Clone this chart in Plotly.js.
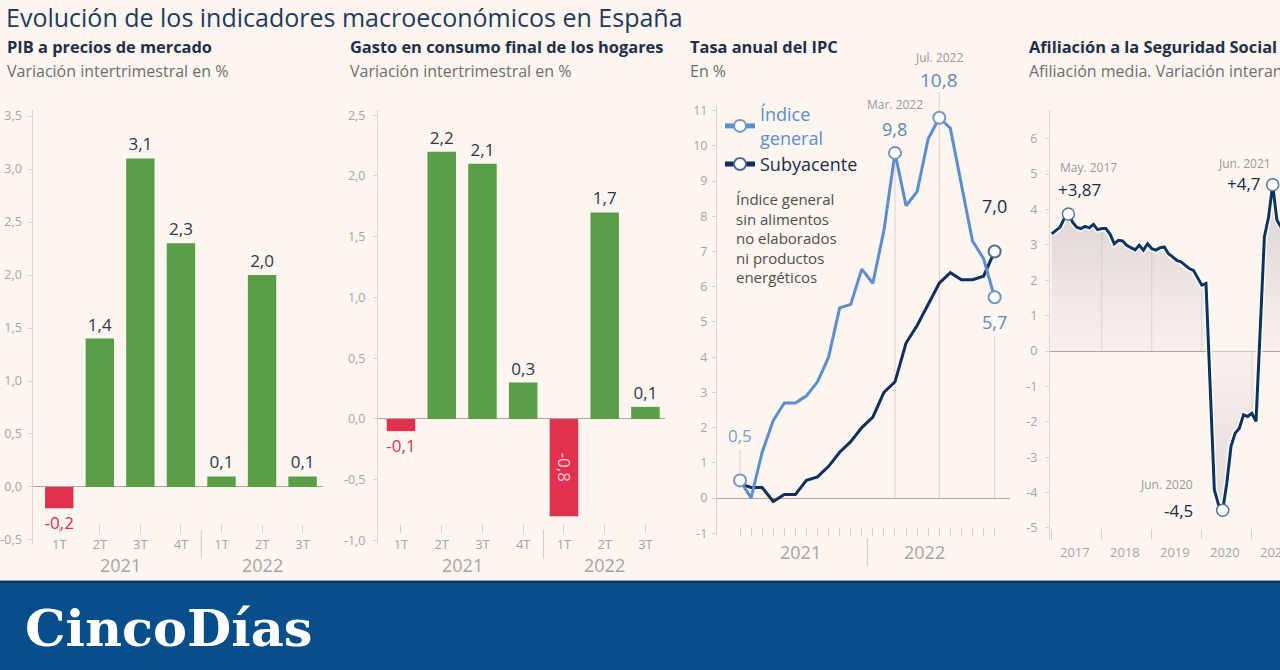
<!DOCTYPE html>
<html><head><meta charset="utf-8">
<script src="https://cdn.plot.ly/plotly-3.0.1.min.js"></script>
<style>html,body{margin:0;padding:0;background:#fcf5f0;} #chart{width:1280px;height:670px;}</style>
</head><body><div id="chart"></div>
<script>
// ---------------- DATA ----------------
const quarters = ['1T','2T','3T','4T','1T','2T','3T'];
const quarterYears = ['2021','2021','2021','2021','2022','2022','2022'];
const pibValues = [-0.2, 1.4, 3.1, 2.3, 0.1, 2.0, 0.1];
const gastoValues = [-0.1, 2.2, 2.1, 0.3, -0.8, 1.7, 0.1];

const ipcMonths = ['ene 2021','feb 2021','mar 2021','abr 2021','may 2021','jun 2021','jul 2021','ago 2021','sep 2021','oct 2021','nov 2021','dic 2021',
                   'ene 2022','feb 2022','mar 2022','abr 2022','may 2022','jun 2022','jul 2022','ago 2022','sep 2022','oct 2022','nov 2022','dic 2022'];
const ipcYears = ['2021','2022'];
const ipcGeneral = [0.5, 0.0, 1.3, 2.2, 2.7, 2.7, 2.9, 3.3, 4.0, 5.4, 5.5, 6.5, 6.1, 7.6, 9.8, 8.3, 8.7, 10.2, 10.8, 10.5, 8.9, 7.3, 6.8, 5.7];
const ipcCore    = [0.4, 0.3, 0.3, -0.1, 0.1, 0.1, 0.5, 0.6, 0.9, 1.3, 1.6, 2.0, 2.3, 3.0, 3.3, 4.4, 4.9, 5.5, 6.1, 6.4, 6.2, 6.2, 6.3, 7.0];

const afilYears = ['2017','2018','2019','2020','2021'];
const afilValues = [3.31, 3.40, 3.50, 3.74, 3.87, 3.64, 3.50, 3.46, 3.52, 3.48, 3.58, 3.43,
                    3.46, 3.46, 3.30, 3.03, 3.13, 3.11, 2.99, 2.92, 2.86, 2.99, 2.85, 3.03,
                    2.89, 2.85, 2.92, 2.94, 2.75, 2.66, 2.56, 2.52, 2.42, 2.33, 2.28, 2.09,
                    1.86, 1.91, -1.2, -3.92, -4.34, -4.5, -3.73, -2.69, -2.32, -2.18, -1.80, -1.85,
                    -1.76, -1.99, 0.6, 3.22, 3.78, 4.7, 3.7, 3.5];

// ---------------- HELPERS ----------------
const W = 1280, H = 670;
const fx = p => p / W;
const fy = p => 1 - p / H;
const fmt = v => v.toFixed(1).replace('.', ',');
const FONT = 'Open Sans, Lato, sans-serif';
const GREY = '#a7a3a0';
const AXIS = '#d9d3cf';
const GREEN = '#5a9e48';
const RED = '#e2304f';
const LIGHTBLUE = '#5b8ecb';
const NAVY = '#0f2f5c';

const idxQ = quarters.map((_, i) => i);
const idxIpc = ipcMonths.map((_, i) => i);
const idxAfil = afilValues.map((_, i) => i);
const afilMonthLabels = afilValues.map((_, i) => (i % 12 + 1) + '/' + afilYears[Math.floor(i / 12)]);

function barTrace(vals, xa, ya, skip) {
  return {
    type: 'bar', x: idxQ, y: vals, xaxis: xa, yaxis: ya, width: 0.7,
    marker: {color: vals.map(v => v < 0 ? RED : GREEN)},
    text: vals.map((v, i) => skip.includes(i) ? '' : fmt(v)),
    textposition: 'outside', textangle: 0, constraintext: 'none', cliponaxis: false,
    textfont: {family: FONT, size: 17, weight: 500, color: vals.map(v => v < 0 ? RED : '#2d3846')},
    hoverinfo: 'skip', showlegend: false
  };
}

function yAx(domPx, range, anchor, vals, txt, standoff) {
  return {
    domain: [fy(domPx[1]), fy(domPx[0])], range: range, anchor: anchor,
    showline: true, linecolor: AXIS, linewidth: 1, ticks: 'outside', ticklen: 4, tickcolor: AXIS,
    tickvals: vals, ticktext: txt, tickfont: {family: FONT, size: 12.5, color: GREY},
    ticklabelstandoff: standoff,
    showgrid: false, zeroline: true, zerolinecolor: '#aca5a1', zerolinewidth: 1, fixedrange: true
  };
}
function xAx(domPx, range, posPx, vals, txt, len) {
  return {
    domain: [fx(domPx[0]), fx(domPx[1])], range: range, anchor: 'free', position: fy(posPx),
    showline: false, showgrid: false, zeroline: false,
    ticks: 'outside', ticklen: len, tickcolor: '#d6d0cc', tickwidth: 1,
    tickvals: vals, ticktext: txt, showticklabels: !!txt,
    tickfont: {family: FONT, size: 13, color: GREY}, fixedrange: true
  };
}

// ---------------- TRACES ----------------
const traces = [];
traces.push(barTrace(pibValues, 'x', 'y', []));
traces.push(barTrace(gastoValues, 'x2', 'y2', [4]));

// IPC
const ipcHlGeneral = [0, 14, 18, 23];
const ipcHlCore = [23];
traces.push({type: 'scatter', mode: 'lines', x: idxIpc, y: ipcCore, text: ipcMonths, xaxis: 'x3', yaxis: 'y3',
  line: {color: NAVY, width: 3}, showlegend: false, hoverinfo: 'text+y'});
traces.push({type: 'scatter', mode: 'lines', x: idxIpc, y: ipcGeneral, text: ipcMonths, xaxis: 'x3', yaxis: 'y3',
  line: {color: LIGHTBLUE, width: 3}, showlegend: false, hoverinfo: 'text+y'});
traces.push({type: 'scatter', mode: 'markers', x: ipcHlGeneral, y: ipcHlGeneral.map(i => ipcGeneral[i]), xaxis: 'x3', yaxis: 'y3',
  marker: {size: 12, color: '#ffffff', line: {color: '#7296c2', width: 2}}, showlegend: false, cliponaxis: false, hoverinfo: 'skip'});
traces.push({type: 'scatter', mode: 'markers', x: ipcHlCore, y: ipcHlCore.map(i => ipcCore[i]), xaxis: 'x3', yaxis: 'y3',
  marker: {size: 12, color: '#ffffff', line: {color: '#4e6d92', width: 2}}, showlegend: false, cliponaxis: false, hoverinfo: 'skip'});
// legend entries
traces.push({type: 'scatter', mode: 'lines+markers', x: [null], y: [null], xaxis: 'x3', yaxis: 'y3',
  name: 'Índice<br>general', line: {color: LIGHTBLUE, width: 3},
  marker: {size: 11, color: '#ffffff', line: {color: '#7296c2', width: 2}}});
traces.push({type: 'scatter', mode: 'lines+markers', x: [null], y: [null], xaxis: 'x3', yaxis: 'y3',
  name: '<span style="color:#1b2d4a">Subyacente</span>', line: {color: NAVY, width: 3},
  marker: {size: 11, color: '#ffffff', line: {color: '#4e6d92', width: 2}}});

// Afiliación
traces.push({type: 'scatter', mode: 'lines', x: idxAfil, y: afilValues, xaxis: 'x4', yaxis: 'y4',
  fill: 'tozeroy',
  fillgradient: {type: 'vertical', start: 5, stop: -5,
    colorscale: [[0, 'rgba(200,190,195,0.75)'], [0.5, 'rgba(242,236,233,0.5)'], [1, 'rgba(210,200,204,0.7)']]},
  line: {color: 'rgba(255,255,255,0.85)', width: 6}, showlegend: false, hoverinfo: 'skip'});
traces.push({type: 'scatter', mode: 'lines', x: idxAfil, y: afilValues, text: afilMonthLabels, xaxis: 'x4', yaxis: 'y4',
  line: {color: '#0d3461', width: 3}, showlegend: false, hoverinfo: 'text+y'});
const afilHl = [4, 41, 53];
traces.push({type: 'scatter', mode: 'markers', x: afilHl, y: afilHl.map(i => afilValues[i]), xaxis: 'x4', yaxis: 'y4',
  marker: {size: 12, color: '#ffffff', line: {color: '#5a7393', width: 1.5}}, showlegend: false, cliponaxis: false, hoverinfo: 'skip'});

// ---------------- ANNOTATIONS ----------------
const ann = [];
function txt(xp, yp, text, size, color, anchor, extra) {
  ann.push(Object.assign({xref: 'paper', yref: 'paper', x: fx(xp), y: fy(yp), text: text, showarrow: false,
    xanchor: anchor || 'left', yanchor: 'middle', font: {family: FONT, size: size, color: color}}, extra || {}));
}
function dtxt(xref, xv, yp, text, size, color, anchor, extra) {
  ann.push(Object.assign({xref: xref, yref: 'paper', x: xv, y: fy(yp), text: text, showarrow: false,
    xanchor: anchor || 'center', yanchor: 'middle', font: {family: FONT, size: size, color: color}}, extra || {}));
}
txt(4, 17, 'Evolución de los indicadores macroeconómicos en España', 25, '#1f3a5c', 'left', {font: {family: FONT, size: 25, color: '#1f3a5c', weight: 500}});
const titles = [[5, 'PIB a precios de mercado', 'Variación intertrimestral en %'],
                [348, 'Gasto en consumo final de los hogares', 'Variación intertrimestral en %'],
                [688, 'Tasa anual del IPC', 'En %'],
                [1027, 'Afiliación a la Seguridad Social', 'Afiliación media. Variación interanual en %']];
titles.forEach(t => {
  txt(t[0], 46, t[1], 16.4, '#1e2f48', 'left', {font: {family: FONT, size: 16.4, color: '#1e2f48', weight: 700}});
  txt(t[0], 71, t[2], 16, '#6f6d6b', 'left');
});

// year labels under bar panels
['x', 'x2'].forEach(xr => {
  [...new Set(quarterYears)].forEach(y => {
    const ids = idxQ.filter(i => quarterYears[i] === y);
    const mid = ids.reduce((a, b) => a + b, 0) / ids.length;
    dtxt(xr, mid, 565, y, 18, GREY);
  });
});
// rotated label inside -0,8 bar
ann.push({xref: 'x2', yref: 'y2', x: 4, y: gastoValues[4] / 2, text: fmt(gastoValues[4]), textangle: 90, showarrow: false,
  font: {family: FONT, size: 17, color: '#f8c6cf'}});

// IPC labels
dtxt('x3', 5.5, 552, ipcYears[0], 18, GREY);
dtxt('x3', 16.7, 552, ipcYears[1], 18, GREY);
dtxt('x3', 0, 435, fmt(ipcGeneral[0]), 17, '#7f9cbf');
dtxt('x3', 14, 104, 'Mar. 2022', 12, '#9a9795');
dtxt('x3', 14, 129, fmt(ipcGeneral[14]), 18, '#5f87b6');
dtxt('x3', 18, 57, 'Jul. 2022', 12, '#9a9795');
dtxt('x3', 18, 80, fmt(ipcGeneral[18]), 19, '#5f87b6');
dtxt('x3', 23, 206, fmt(ipcCore[23]), 18, '#1c2b40');
dtxt('x3', 23, 322, fmt(ipcGeneral[23]), 18, '#5f87b6');
ann.push({xref: 'paper', yref: 'paper', x: fx(734), y: fy(187), xanchor: 'left', yanchor: 'top', align: 'left', showarrow: false,
  text: 'Índice general<br>sin alimentos<br>no elaborados<br>ni productos<br>energéticos',
  font: {family: FONT, size: 15, color: '#4f4d4b'}});

// Afiliación labels
afilYears.forEach((y, k) => dtxt('x4', 12 * k + 5.5, 552, y, 13, GREY));
dtxt('x4', 4, 168, 'May. 2017', 12, '#9a9795', 'left', {xshift: -10});
dtxt('x4', 4, 189, '+' + afilValues[4].toFixed(2).replace('.', ','), 17, '#1c2b40', 'left', {xshift: -12});
dtxt('x4', 53, 163, 'Jun. 2021', 12, '#9a9795', 'right', {xshift: 0});
dtxt('x4', 53, 183, '+' + fmt(afilValues[53]), 17, '#1c2b40', 'right', {xshift: -10});
dtxt('x4', 41, 484, 'Jun. 2020', 12, '#9a9795', 'right', {xshift: -28});
dtxt('x4', 41, 510, fmt(afilValues[41]), 17, '#1c2b40', 'right', {xshift: -28});

// Logo text
txt(23, 628, 'CincoDías', 51, '#ffffff', 'left', {font: {family: 'DejaVu Serif, Liberation Serif, serif', size: 51, color: '#ffffff', weight: 700}});

// ---------------- SHAPES ----------------
const shapes = [];
const vline = (xref, x, yref, y0, y1, color) => shapes.push({type: 'line', xref: xref, yref: yref, x0: x, x1: x, y0: y0, y1: y1,
  line: {color: color || '#d8d2ce', width: 1}, layer: 'below'});
vline('x', 3.5, 'paper', fy(530), fy(559), '#cfc9c5');
vline('x2', 3.5, 'paper', fy(530), fy(559), '#cfc9c5');
vline('x3', 11.5, 'paper', fy(538), fy(566), '#cfc9c5');
vline('x3', 14, 'y3', 0, ipcGeneral[14]);
vline('x3', 18, 'paper', fy(498), fy(92));
vline('x3', 23, 'paper', fy(498), fy(336));
vline('x3', 0, 'paper', fy(478), fy(450));
[12, 24, 36, 48].forEach(i => vline('x4', i, 'y4', 0, afilValues[i], '#c9c2c0'));
// bottom band
shapes.push({type: 'rect', xref: 'paper', yref: 'paper', x0: 0, x1: 1, y0: 0, y1: fy(580), fillcolor: '#074e8b', line: {width: 0}, layer: 'below'});
shapes.push({type: 'rect', xref: 'paper', yref: 'paper', x0: 0, x1: 1, y0: fy(583), y1: fy(580.8), fillcolor: '#0b3566', line: {width: 0}, layer: 'below'});
shapes.push({type: 'rect', xref: 'paper', yref: 'paper', x0: 0, x1: 1, y0: fy(580.8), y1: fy(580), fillcolor: '#9fc3d8', line: {width: 0}, layer: 'below'});

// ---------------- LAYOUT ----------------
const layout = {
  width: W, height: H, margin: {l: 0, r: 0, t: 0, b: 0},
  paper_bgcolor: '#fcf5f0', plot_bgcolor: 'rgba(0,0,0,0)',
  separators: ',.', bargap: 0.3, barmode: 'group',
  font: {family: FONT},
  showlegend: true,
  legend: {x: fx(720), y: fy(96), xanchor: 'left', yanchor: 'top', bgcolor: 'rgba(0,0,0,0)',
    font: {family: FONT, size: 18, color: LIGHTBLUE}, itemsizing: 'constant', tracegroupgap: 0, itemwidth: 30},
  xaxis:  xAx([33.3, 323.3], [-0.64, 6.51], 524, idxQ, quarters, 8),
  yaxis:  yAx([110, 544], [-0.538, 3.557], 'x', [-0.5,0,0.5,1,1.5,2,2.5,3,3.5], [-0.5,0,0.5,1,1.5,2,2.5,3,3.5].map(fmt), 4),
  xaxis2: xAx([378, 665], [-0.564, 6.48], 524, idxQ, quarters, 8),
  yaxis2: yAx([110, 544], [-1.029, 2.543], 'x2', [-1,-0.5,0,0.5,1,1.5,2,2.5], [-1,-0.5,0,0.5,1,1.5,2,2.5].map(fmt), 5),
  xaxis3: xAx([717, 1010], [-2.08, 24.39], 527, idxIpc, null, 8),
  yaxis3: yAx([105, 535], [-1.05, 11.16], 'x3', [-1,0,1,2,3,4,5,6,7,8,9,10,11], ['-1','0','1','2','3','4','5','6','7','8','9','10','11'], 2),
  xaxis4: xAx([1050, 1280], [-0.41, 54.75], 528, [0, 12, 24, 36, 48], null, 10),
  yaxis4: yAx([110, 540], [-5.34, 6.81], 'x4', [-5,-4,-3,-2,-1,0,1,2,3,4,5,6], ['-5','-4','-3','-2','-1','0','1','2','3','4','5','6'], 5),
  annotations: ann, shapes: shapes
};

Plotly.newPlot('chart', traces, layout, {staticPlot: true, displayModeBar: false});
</script>
</body></html>
